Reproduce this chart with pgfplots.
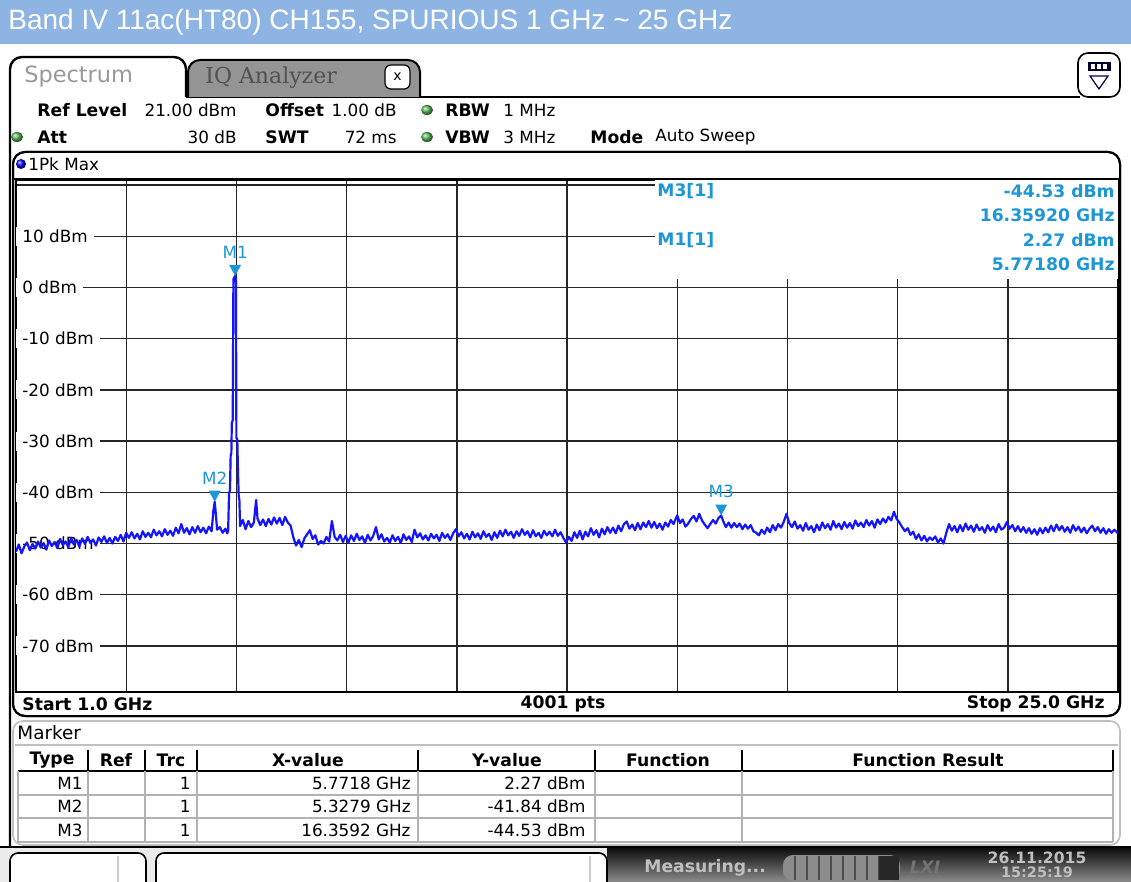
\documentclass[border=0pt]{standalone}
\usepackage{pgfplots}
\pgfplotsset{compat=1.18}
\usepackage{fontspec}
\setmainfont{DejaVu Sans}
\newfontfamily\titlefont{Liberation Sans}
\newfontfamily\rsfont{DejaVu Sans}
\newfontfamily\rsserif{DejaVu Serif}
\newcommand\R{\rsfont\fontsize{8.4}{10}\selectfont}
\newcommand\B{\rsfont\bfseries\fontsize{8.6}{10}\selectfont}
\definecolor{titleblue}{RGB}{142,180,227}
\definecolor{mk}{RGB}{28,150,215}
\definecolor{trace}{RGB}{20,20,255}
\definecolor{led}{RGB}{90,185,90}
\pgfdeclareplotmark{dtri}{%
  \pgfpathmoveto{\pgfqpoint{0pt}{0pt}}%
  \pgfpathlineto{\pgfqpoint{-3pt}{5.5pt}}%
  \pgfpathlineto{\pgfqpoint{3pt}{5.5pt}}%
  \pgfpathclose\pgfusepathqfill}
\tikzset{ylab/.style={anchor=west, fill=white, inner xsep=3pt, inner ysep=1.5pt, font=\R}}
\begin{document}
\begin{tikzpicture}
\path[use as bounding box] (0pt,0pt) rectangle (565.5pt,-441pt);
\clip (0pt,0pt) rectangle (565.5pt,-441pt);
\begin{scope}[x=0.5pt,y=0.5pt]
% title bar
\fill[titleblue] (0,0) rectangle (1131,-44);
\node[anchor=west, text=white, inner sep=0pt] at (8,-22)
  {\resizebox{362pt}{\height}{\titlefont\fontsize{14}{16}\selectfont Band IV 11ac(HT80) CH155, SPURIOUS 1 GHz \char"007E{} 25 GHz}};
% tabs
\draw[line width=1.2pt, fill=white, rounded corners=6] (10,-850) -- (10,-57) -- (186,-57) -- (186,-97);
\draw[line width=1pt] (186,-97) -- (1080,-97);
\draw[line width=1pt, fill=black!42, rounded corners=6] (188,-97) -- (188,-60) -- (420,-60) -- (420,-97);
\node[anchor=west, text=black!40, inner sep=0pt] at (24,-77) {\rsfont\fontsize{11.2}{13}\selectfont Spectrum};
\node[anchor=west, text=black!68, inner sep=0pt] at (205,-78) {\rsserif\fontsize{11}{13}\selectfont IQ Analyzer};
\draw[line width=0.6pt, fill=white, rounded corners=3] (385,-65) rectangle (410,-89);
\node[inner sep=0pt] at (397.5,-77) {\rsfont\fontsize{7}{8}\selectfont x};
% icon
\draw[line width=0.8pt, fill=white, rounded corners=5] (1078,-53) rectangle (1120,-97);
\fill[black!80!blue] (1088,-62) rectangle (1111,-71);
\fill[white] (1091,-64) rectangle (1095,-69);
\fill[white] (1097,-64) rectangle (1101,-69);
\fill[white] (1103,-64) rectangle (1107,-69);
\draw[line width=0.6pt, black!70!blue] (1090,-76) -- (1108,-76) -- (1099,-89) -- cycle;
% header rows
\node[anchor=west, inner sep=0pt] at (37,-110) {\B Ref Level};
\node[anchor=east, inner sep=0pt] at (237,-110) {\R 21.00 dBm};
\node[anchor=west, inner sep=0pt] at (265,-110) {\B Offset};
\node[anchor=east, inner sep=0pt] at (397,-110) {\R 1.00 dB};
\shade[ball color=led] (427,-110) ellipse (6 and 5);
\node[anchor=west, inner sep=0pt] at (445,-110) {\B RBW};
\node[anchor=west, inner sep=0pt] at (503,-110) {\R 1 MHz};
\shade[ball color=led] (17,-137) ellipse (6 and 5);
\node[anchor=west, inner sep=0pt] at (37,-137) {\B Att};
\node[anchor=east, inner sep=0pt] at (237,-137) {\R 30 dB};
\node[anchor=west, inner sep=0pt] at (265,-137) {\B SWT};
\node[anchor=east, inner sep=0pt] at (397,-137) {\R 72 ms};
\shade[ball color=led] (427,-137) ellipse (6 and 5);
\node[anchor=west, inner sep=0pt] at (445,-137) {\B VBW};
\node[anchor=west, inner sep=0pt] at (503,-137) {\R 3 MHz};
\node[anchor=west, inner sep=0pt] at (590,-137) {\B Mode};
\node[anchor=west, inner sep=0pt] at (655,-137) {\R Auto Sweep};
% trace window
\draw[line width=1pt, fill=white, rounded corners=6] (13,-152) rectangle (1120,-716);
\shade[ball color=blue] (21,-164) circle (5);
\node[anchor=west, inner sep=0pt] at (28,-164) {\R 1Pk Max};
\draw[line width=0.8pt] (13,-179) -- (1120,-179);
\end{scope}
\begin{axis}[
  at={(8pt,-346pt)}, anchor=south west, scale only axis,
  width=551pt, height=256pt,
  xmin=1, xmax=25, ymin=-79, ymax=21,
  xtick={1,3.4,5.8,8.2,10.6,13,15.4,17.8,20.2,22.6,25},
  ytick={-70,-60,-50,-40,-30,-20,-10,0,10,20},
  xticklabels={}, yticklabels={},
  major tick length=0pt,
  grid=major,
  major grid style={black!85, line width=0.7pt},
  axis line style={black, line width=0.8pt},
]
\fill[white] (axis cs:14.92,21) rectangle (axis cs:25,1.6);
\node[ylab] at (axis cs:1,10) {10 dBm};
\node[ylab] at (axis cs:1,0) {0 dBm};
\node[ylab] at (axis cs:1,-10) {-10 dBm};
\node[ylab] at (axis cs:1,-20) {-20 dBm};
\node[ylab] at (axis cs:1,-30) {-30 dBm};
\node[ylab] at (axis cs:1,-40) {-40 dBm};
\node[ylab] at (axis cs:1,-50) {-50 dBm};
\node[ylab] at (axis cs:1,-60) {-60 dBm};
\node[ylab] at (axis cs:1,-70) {-70 dBm};
\addplot[trace, line width=1.1pt, line join=round] coordinates {
(1.00,-51.6) (1.06,-50.2) (1.12,-51.9) (1.18,-50.6) (1.24,-49.8) (1.30,-51.3) (1.36,-50.1) (1.42,-51.0)
(1.48,-49.6) (1.54,-50.8) (1.60,-49.9) (1.66,-51.2) (1.72,-49.4) (1.78,-50.5) (1.84,-49.7) (1.90,-50.9)
(1.96,-49.1) (2.02,-50.3) (2.08,-49.6) (2.14,-50.7) (2.20,-48.9) (2.26,-50.2) (2.32,-49.3) (2.38,-50.6)
(2.44,-49.0) (2.50,-50.1) (2.56,-48.7) (2.62,-49.9) (2.68,-49.2) (2.74,-50.4) (2.80,-48.8) (2.86,-49.7)
(2.92,-48.6) (2.98,-49.9) (3.04,-48.9) (3.10,-50.0) (3.16,-48.7) (3.22,-49.5) (3.28,-48.3) (3.34,-49.6)
(3.40,-47.9) (3.46,-48.9) (3.52,-47.8) (3.58,-49.0) (3.64,-48.1) (3.70,-49.2) (3.76,-47.6) (3.82,-48.7)
(3.88,-47.9) (3.94,-48.8) (4.00,-47.3) (4.06,-48.4) (4.12,-47.6) (4.18,-48.6) (4.24,-47.2) (4.30,-48.3)
(4.36,-47.5) (4.42,-48.5) (4.48,-46.9) (4.54,-48.0) (4.60,-46.2) (4.66,-47.9) (4.72,-47.0) (4.78,-48.2)
(4.84,-46.8) (4.90,-47.9) (4.96,-46.6) (5.02,-47.8) (5.08,-46.9) (5.14,-48.0) (5.20,-46.7) (5.26,-47.6)
(5.30,-43.5) (5.3279,-41.84) (5.35,-44.0) (5.38,-47.3) (5.44,-46.8) (5.50,-47.9) (5.56,-47.1) (5.60,-48.0)
(5.62,-47.5) (5.64,-40.2) (5.66,-39.6) (5.675,-32.8) (5.69,-32.4) (5.70,-26.5) (5.72,-25.9) (5.735,1.6)
(5.7718,2.27) (5.79,1.4) (5.80,-29.3) (5.82,-29.8) (5.835,-36.2) (5.85,-40.7) (5.865,-41.5) (5.88,-46.6)
(5.94,-45.4) (6.00,-47.2) (6.06,-45.6) (6.12,-46.8) (6.18,-45.9) (6.23,-41.5) (6.26,-45.1) (6.32,-46.4)
(6.38,-45.3) (6.44,-46.6) (6.50,-45.2) (6.56,-46.3) (6.62,-44.9) (6.68,-46.1) (6.74,-45.0) (6.80,-46.4)
(6.86,-44.8) (6.92,-45.9) (6.98,-46.5) (7.04,-48.8) (7.10,-50.4) (7.16,-49.3) (7.22,-50.7) (7.28,-49.0)
(7.34,-48.2) (7.40,-47.4) (7.46,-49.1) (7.52,-48.4) (7.58,-50.2) (7.64,-49.5) (7.70,-50.0) (7.76,-48.7)
(7.82,-49.6) (7.88,-45.6) (7.94,-48.7) (8.00,-49.4) (8.06,-48.3) (8.12,-49.7) (8.18,-48.5) (8.24,-49.8)
(8.30,-48.4) (8.36,-49.5) (8.42,-48.1) (8.48,-49.3) (8.54,-48.6) (8.60,-49.9) (8.66,-48.3) (8.72,-49.4)
(8.78,-48.5) (8.84,-46.8) (8.90,-49.2) (8.96,-48.2) (9.02,-49.6) (9.08,-48.9) (9.14,-49.8) (9.20,-48.4)
(9.26,-49.5) (9.32,-48.7) (9.38,-49.9) (9.44,-48.2) (9.50,-49.3) (9.56,-48.6) (9.62,-49.7) (9.68,-47.3)
(9.74,-48.8) (9.80,-48.0) (9.86,-49.2) (9.92,-48.4) (9.98,-49.4) (10.04,-48.1) (10.10,-49.0) (10.16,-48.3)
(10.22,-49.5) (10.28,-47.9) (10.34,-48.9) (10.40,-48.2) (10.46,-49.3) (10.52,-48.0) (10.58,-47.2) (10.64,-48.6)
(10.70,-47.8) (10.76,-49.0) (10.82,-48.1) (10.88,-49.2) (10.94,-47.7) (11.00,-48.8) (11.06,-48.0) (11.12,-49.1)
(11.18,-47.6) (11.24,-48.7) (11.30,-48.1) (11.36,-49.3) (11.42,-47.8) (11.48,-48.9) (11.54,-47.5) (11.60,-48.6)
(11.66,-47.3) (11.72,-48.4) (11.78,-47.7) (11.84,-48.9) (11.90,-47.6) (11.96,-48.5) (12.02,-47.2) (12.08,-48.3)
(12.14,-47.6) (12.20,-48.8) (12.26,-47.4) (12.32,-48.6) (12.38,-47.9) (12.44,-48.9) (12.50,-47.5) (12.56,-48.4)
(12.62,-47.7) (12.68,-48.6) (12.74,-47.3) (12.80,-48.5) (12.86,-47.8) (12.92,-48.9) (12.98,-49.8) (13.04,-48.7)
(13.10,-49.5) (13.16,-47.8) (13.22,-48.9) (13.28,-47.5) (13.34,-49.2) (13.40,-47.7) (13.46,-48.6) (13.52,-47.0)
(13.58,-48.3) (13.64,-47.4) (13.70,-48.8) (13.76,-47.1) (13.82,-48.2) (13.88,-46.8) (13.94,-47.9) (14.00,-46.9)
(14.06,-48.0) (14.12,-46.5) (14.18,-47.6) (14.24,-46.2) (14.30,-45.7) (14.36,-47.1) (14.42,-46.3) (14.48,-47.4)
(14.54,-46.0) (14.60,-47.2) (14.66,-45.9) (14.72,-46.8) (14.78,-45.6) (14.84,-46.9) (14.90,-45.8) (14.96,-47.0)
(15.02,-46.1) (15.08,-47.3) (15.14,-45.9) (15.20,-46.7) (15.26,-45.4) (15.32,-46.2) (15.40,-44.5) (15.46,-46.0)
(15.52,-45.3) (15.58,-46.7) (15.64,-46.1) (15.70,-45.2) (15.76,-44.6) (15.82,-45.7) (15.88,-44.2) (15.94,-45.5)
(16.00,-46.3) (16.06,-47.0) (16.12,-46.2) (16.18,-45.4) (16.24,-46.1) (16.30,-45.0) (16.3592,-44.53) (16.40,-45.6)
(16.46,-46.8) (16.52,-45.9) (16.58,-46.9) (16.64,-46.0) (16.70,-46.8) (16.76,-46.1) (16.82,-47.2) (16.88,-46.3)
(16.94,-47.1) (17.00,-46.4) (17.06,-47.6) (17.12,-47.9) (17.18,-48.4) (17.24,-47.3) (17.30,-48.1) (17.36,-46.9)
(17.42,-47.8) (17.48,-46.4) (17.54,-47.4) (17.60,-46.2) (17.66,-46.9) (17.72,-45.8) (17.78,-44.2) (17.84,-46.0)
(17.90,-46.8) (17.96,-45.7) (18.02,-47.1) (18.08,-46.4) (18.14,-47.5) (18.20,-46.0) (18.26,-47.3) (18.32,-46.6)
(18.38,-47.8) (18.44,-46.3) (18.50,-47.4) (18.56,-45.9) (18.62,-47.0) (18.68,-46.2) (18.74,-47.3) (18.80,-45.6)
(18.86,-46.9) (18.92,-46.1) (18.98,-47.2) (19.04,-45.8) (19.10,-46.9) (19.16,-46.0) (19.22,-47.1) (19.28,-45.5)
(19.34,-46.6) (19.40,-45.9) (19.46,-46.8) (19.52,-45.4) (19.58,-46.5) (19.64,-45.6) (19.70,-46.9) (19.76,-45.3)
(19.82,-46.2) (19.88,-45.1) (19.94,-45.9) (20.00,-44.8) (20.06,-45.5) (20.12,-43.8) (20.18,-45.2) (20.24,-45.9)
(20.30,-46.8) (20.36,-47.6) (20.42,-47.0) (20.48,-48.3) (20.54,-47.7) (20.60,-49.1) (20.66,-48.2) (20.72,-49.4)
(20.78,-48.5) (20.84,-49.6) (20.90,-48.8) (20.96,-49.3) (21.02,-48.6) (21.08,-49.8) (21.14,-49.0) (21.20,-50.0)
(21.26,-47.9) (21.32,-46.2) (21.38,-47.5) (21.44,-46.6) (21.50,-47.8) (21.56,-46.4) (21.62,-47.6) (21.68,-46.1)
(21.74,-47.3) (21.80,-46.5) (21.86,-47.7) (21.92,-46.3) (21.98,-47.4) (22.04,-46.8) (22.10,-47.9) (22.16,-46.4)
(22.22,-47.5) (22.28,-46.7) (22.34,-47.8) (22.40,-46.2) (22.46,-47.3) (22.52,-46.9) (22.58,-45.8) (22.64,-47.1)
(22.70,-46.4) (22.76,-47.6) (22.82,-46.6) (22.88,-47.7) (22.94,-46.8) (23.00,-47.9) (23.06,-47.0) (23.12,-48.1)
(23.18,-47.2) (23.24,-48.3) (23.30,-47.0) (23.36,-48.0) (23.42,-46.9) (23.48,-47.8) (23.54,-46.5) (23.60,-47.6)
(23.66,-46.3) (23.72,-47.4) (23.78,-46.6) (23.84,-47.7) (23.90,-46.8) (23.96,-47.9) (24.02,-46.4) (24.08,-47.5)
(24.14,-46.7) (24.20,-47.8) (24.26,-46.9) (24.32,-48.0) (24.38,-47.1) (24.44,-46.5) (24.50,-47.6) (24.56,-46.8)
(24.62,-47.9) (24.68,-47.0) (24.74,-48.1) (24.80,-47.2) (24.86,-47.9) (24.92,-47.3) (25.00,-48.0)
};
\addplot[only marks, mark=dtri, color=mk,
  nodes near coords, point meta=explicit symbolic,
  every node near coord/.style={anchor=south, inner sep=0pt, yshift=8.5pt, text=mk, font=\R}]
  table[meta=label, row sep=\\] {
  x y label \\
  5.7718 2.27 M1 \\
  5.3279 -41.84 M2 \\
  16.3592 -44.53 M3 \\
};
\end{axis}
\begin{scope}[x=0.5pt,y=0.5pt]
% redraw window borders over axis
\draw[line width=1pt, rounded corners=6] (13,-152) rectangle (1120,-716);
\draw[line width=0.8pt] (13,-179) -- (1120,-179);
% marker info
\node[anchor=west, inner sep=0pt, text=mk] at (657,-191) {\B M3[1]};
\node[anchor=east, inner sep=0pt, text=mk] at (1115,-191) {\B -44.53 dBm};
\node[anchor=east, inner sep=0pt, text=mk] at (1115,-215) {\B 16.35920 GHz};
\node[anchor=west, inner sep=0pt, text=mk] at (657,-240) {\B M1[1]};
\node[anchor=east, inner sep=0pt, text=mk] at (1115,-240) {\B 2.27 dBm};
\node[anchor=east, inner sep=0pt, text=mk] at (1115,-264) {\B 5.77180 GHz};
% bottom row
\node[anchor=west, inner sep=0pt] at (22,-704) {\B Start 1.0 GHz};
\node[inner sep=0pt] at (563,-704) {\B 4001 pts};
\node[anchor=east, inner sep=0pt] at (1105,-704) {\B Stop 25.0 GHz};
% marker table
\draw[black!25, line width=0.8pt, fill=white, rounded corners=5] (13,-721) rectangle (1120,-845);
\node[anchor=west, inner sep=0pt] at (17,-733) {\rsfont\fontsize{9.2}{11}\selectfont Marker};
\draw[black!25, line width=0.8pt] (15,-745) -- (1118,-745);
\foreach \x in {88,145,197,418,595,742,1113} {\draw[line width=0.6pt] (\x,-750) -- (\x,-771);}
\draw[line width=0.9pt] (18,-771) -- (1113,-771);
\foreach \x in {18,88,145,197,418,595,742,1113} {\draw[black!30, line width=0.6pt] (\x,-771) -- (\x,-842);}
\foreach \y in {795,818,842} {\draw[black!30, line width=0.6pt] (18,-\y) -- (1113,-\y);}
\node[inner sep=0pt] at (52,-760) {\B Type};
\node[inner sep=0pt] at (116,-760) {\B Ref};
\node[inner sep=0pt] at (171,-760) {\B Trc};
\node[inner sep=0pt] at (308,-760) {\B X-value};
\node[inner sep=0pt] at (507,-760) {\B Y-value};
\node[inner sep=0pt] at (668,-760) {\B Function};
\node[inner sep=0pt] at (928,-760) {\B Function Result};
\foreach \y/\m/\xv/\yv in {783/M1/5.7718 GHz/2.27 dBm, 806/M2/5.3279 GHz/-41.84 dBm, 830/M3/16.3592 GHz/-44.53 dBm} {
  \node[anchor=east, inner sep=0pt] at (83,-\y) {\R \m};
  \node[anchor=east, inner sep=0pt] at (191,-\y) {\R 1};
  \node[anchor=east, inner sep=0pt] at (411,-\y) {\R \xv};
  \node[anchor=east, inner sep=0pt] at (586,-\y) {\R \yv};
}
% status bar
\fill[black!8] (0,-847) rectangle (1131,-882);
\draw[line width=1.2pt] (0,-847) -- (1131,-847);
\shade[top color=black!95, bottom color=black!45] (607,-848) rectangle (1131,-882);
\draw[line width=0.8pt, fill=white, rounded corners=4] (10,-853) rectangle (146,-890);
\draw[black!20, line width=0.6pt] (118,-856) -- (118,-882);
\draw[line width=0.8pt, fill=white, rounded corners=4] (156,-853) rectangle (607,-890);
\draw[black!20, line width=0.6pt] (590,-856) -- (590,-882);
\node[anchor=west, inner sep=0pt, text=black!25] at (644,-868) {\B Measuring...};
\fill[black!45, rounded corners=5] (783,-855) rectangle (900,-881);
\foreach \x in {795,807,819,831,843,855,867,879} {\draw[black!70, line width=0.6pt] (\x,-856) -- (\x,-880);}
\fill[black!85] (879,-856) rectangle (899,-880);
\node[inner sep=0pt, text=black!55] at (925,-867) {\rsfont\bfseries\itshape\fontsize{8.5}{10}\selectfont LXI};
\node[inner sep=0pt, text=black!25] at (1037,-858) {\rsfont\bfseries\fontsize{7.8}{9}\selectfont 26.11.2015};
\node[inner sep=0pt, text=black!25] at (1037,-872) {\rsfont\bfseries\fontsize{7.2}{9}\selectfont 15:25:19};
\end{scope}
\end{tikzpicture}
\end{document}
